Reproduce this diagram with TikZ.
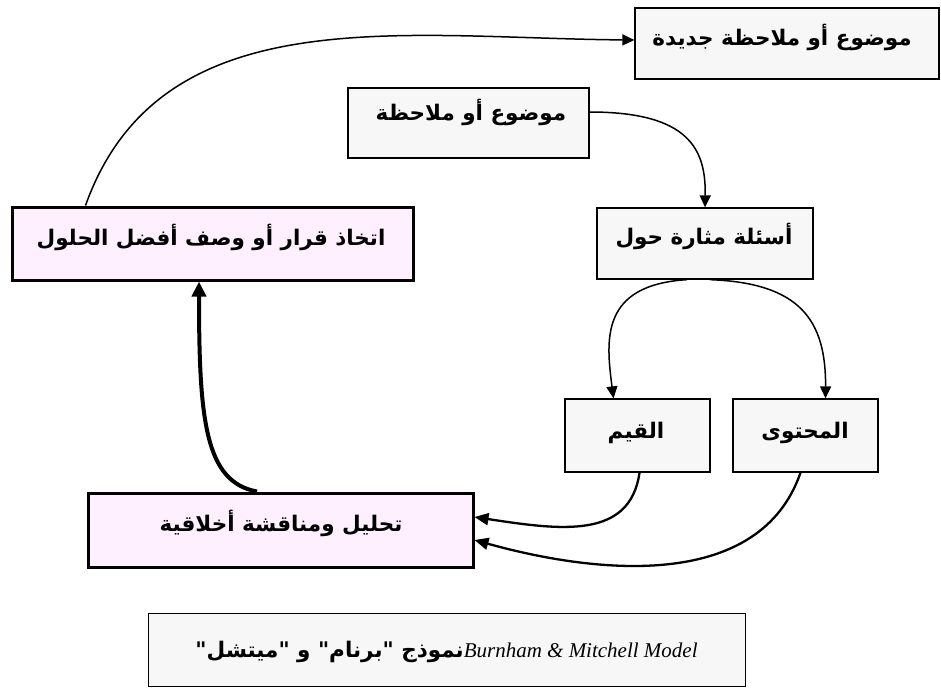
\documentclass[tikz,border=0pt]{standalone}
\usepackage{fontspec}
\usetikzlibrary{arrows.meta}
\TeXXeTstate=1
\newfontfamily\arabicfont[Script=Arabic]{DejaVu Sans}
\newfontfamily\latinserif{Liberation Serif}
\definecolor{boxgray}{HTML}{F7F7F7}
\definecolor{boxpink}{HTML}{FFF0FF}
\tikzset{
  graybox/.style={draw=black, line width=1.3pt, fill=boxgray, inner sep=0pt},
  pinkbox/.style={draw=black, line width=3pt, fill=boxpink, inner sep=0pt},
  lbl/.style={inner sep=0pt, font=\arabicfont\bfseries\fontsize{21.5}{24}\selectfont},
  conn/.style={line width=1.5pt, -{Triangle[width=11pt,length=12pt]}},
  midconn/.style={line width=2.3pt, -{Triangle[width=12pt,length=14pt]}},
  thickconn/.style={line width=4pt, -{Triangle[width=14pt,length=15pt]}},
}
\begin{document}
\begin{tikzpicture}[x=1pt,y=-1pt]
\useasboundingbox (0,0) rectangle (941,689);
% boxes
\node[graybox, minimum width=304pt, minimum height=71pt] (box1) at (787,43.5) {};
\node[graybox, minimum width=241pt, minimum height=70pt] (box2) at (468.5,123) {};
\node[graybox, minimum width=216pt, minimum height=71pt] (box3) at (705,243.5) {};
\node[graybox, minimum width=145pt, minimum height=73pt] (box4) at (637.5,435.5) {};
\node[graybox, minimum width=145pt, minimum height=73pt] (box5) at (805.5,435.5) {};
\node[pinkbox, minimum width=401pt, minimum height=73pt] (box6) at (212.5,243.5) {};
\node[pinkbox, minimum width=385pt, minimum height=74pt] (box7) at (280.5,530) {};
\node[graybox, line width=1pt, minimum width=597pt, minimum height=73pt] (box8) at (446.5,649.5) {};
% texts
\node[lbl] (t1) at (782,37) {\beginR موضوع أو ملاحظة جديدة\endR};
\node[lbl] (t2) at (471,112) {\beginR موضوع أو ملاحظة\endR};
\node[lbl] (t3) at (704,236) {\beginR أسئلة مثارة حول\endR};
\node[lbl] (t4) at (636,433) {\beginR القيم\endR};
\node[lbl] (t5) at (805,433) {\beginR المحتوى\endR};
\node[lbl] (t6) at (211,237) {\beginR اتخاذ قرار أو وصف أفضل الحلول\endR};
\node[lbl] (t7) at (281,523) {\beginR تحليل ومناقشة أخلاقية\endR};
\node[lbl] (t8) at (446.5,652) {\beginR{\latinserif\mdseries\itshape\fontsize{21}{24}\selectfont\beginL Burnham \& Mitchell Model\endL}نموذج "برنام" و "ميتشل"\endR};
% connectors
\draw[conn] ([xshift=75pt]box6.north west) .. controls (160,-3) and (400,38) .. ([yshift=3.5pt]box1.west);
\draw[conn] ([yshift=11pt]box2.east) .. controls (690,112) and (706,150) .. (box3.north);
\draw[conn] ([xshift=-18pt]box3.south) .. controls (600,285) and (606,340) .. ([xshift=-24pt]box4.north);
\draw[conn] ([xshift=5pt]box3.south) .. controls (800,283) and (826,320) .. ([xshift=20pt]box5.north);
\draw[midconn] ([xshift=2pt]box4.south) .. controls (630,540) and (560,530) .. ([yshift=13pt]box7.east);
\draw[midconn] ([xshift=-5pt]box5.south) .. controls (760,590) and (600,575) .. ([yshift=-10pt]box7.east);
\draw[thickconn] ([xshift=-23.5pt]box7.north) .. controls (205,482) and (199,420) .. ([xshift=-13.5pt]box6.south);
\end{tikzpicture}
\end{document}
